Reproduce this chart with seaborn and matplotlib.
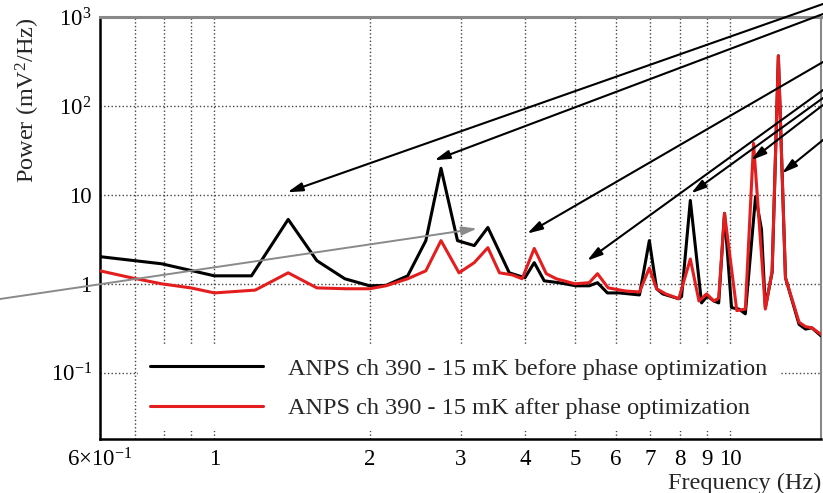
import numpy as np
import pandas as pd
import matplotlib
matplotlib.use('Agg')
import matplotlib.pyplot as plt
import seaborn as sns

# --- data (Hz, mV^2/Hz) ---
freq_before = [0.60, 0.79, 1.00, 1.18, 1.39, 1.58, 1.79, 2.00, 2.15, 2.37, 2.57, 2.75,
               2.96, 3.19, 3.39, 3.73, 4.00, 4.17, 4.36, 4.65, 5.02, 5.33, 5.53, 5.78,
               6.10, 6.67, 6.97, 7.20, 7.40, 7.95, 8.05, 8.37, 8.80, 9.03, 9.30, 9.50,
               9.75, 10.06, 10.40, 10.70, 11.20, 11.50, 11.70, 12.06, 12.40, 12.80,
               13.60, 14.00, 14.40, 15.00]
power_before = [2.02, 1.68, 1.23, 1.23, 5.3, 1.82, 1.14, 0.95, 0.96, 1.23, 3.06, 19.9,
                3.06, 2.69, 4.3, 1.33, 1.17, 1.73, 1.08, 1.03, 0.95, 0.95, 1.03, 0.79,
                0.79, 0.75, 3.06, 0.88, 0.77, 0.68, 0.72, 8.67, 0.61, 0.73, 0.64, 0.61,
                6.2, 0.54, 0.52, 0.46, 9.6, 4.1, 0.54, 1.35, 366, 1.17,
                0.35, 0.31, 0.32, 0.26]

freq_after = [0.60, 0.69, 0.79, 0.90, 1.00, 1.20, 1.39, 1.58, 1.80, 2.00, 2.15, 2.37,
              2.57, 2.75, 2.98, 3.19, 3.39, 3.57, 3.78, 3.95, 4.17, 4.40, 4.60, 5.00,
              5.33, 5.53, 5.80, 6.27, 6.67, 6.97, 7.20, 7.50, 7.95, 8.37, 8.70, 9.00,
              9.30, 9.50, 9.75, 10.30, 10.70, 11.10, 11.70, 12.06, 12.40, 12.80,
              13.60, 14.00, 14.40, 15.00]
power_after = [1.40, 1.17, 1.00, 0.90, 0.79, 0.85, 1.33, 0.90, 0.88, 0.88, 0.95, 1.14,
               1.40, 3.06, 1.33, 1.73, 2.55, 1.33, 1.26, 1.14, 2.50, 1.30, 1.14, 1.00,
               1.03, 1.30, 0.90, 0.83, 0.81, 1.50, 0.88, 0.77, 0.68, 1.90, 0.64, 0.77,
               0.64, 0.69, 6.20, 0.50, 0.52, 38.0, 0.52, 1.40, 366, 1.17,
               0.37, 0.33, 0.32, 0.27]

label_before = 'ANPS ch 390 - 15 mK before phase optimization'
label_after = 'ANPS ch 390 - 15 mK after phase optimization'

# arrows: head in data coords, tail on the right figure edge (pixels from top)
arrow_heads = [(1.385, 10.7), (2.67, 24.5), (4.04, 3.67), (5.28, 1.82),
               (8.4, 10.4), (10.98, 24.5), (12.6, 17.5)]
arrow_tails_px = [4, 14, 62, 90, 98, 105, 140]
gray_head = (3.23, 4.18)
gray_tail_px = 299

x_major = [1, 10]
x_minor = [0.6, 0.7, 0.8, 0.9, 2, 3, 4, 5, 6, 7, 8, 9]
x_minor_labels = [r'$6{\times}10^{-1}$', '', '', '', '2', '3', '4', '5', '6', '7', '8', '9']
y_ticks = [0.1, 1, 10, 100, 1000]
y_labels = [r'$10^{-1}$', '1', '10', r'$10^{2}$', r'$10^{3}$']

df_before = pd.DataFrame({'freq': freq_before, 'power': power_before})
df_after = pd.DataFrame({'freq': freq_after, 'power': power_after})

sns.set_theme(style='white')
plt.rcParams['font.family'] = ['Liberation Serif', 'DejaVu Serif']
plt.rcParams['mathtext.fontset'] = 'custom'
plt.rcParams['mathtext.rm'] = 'Liberation Serif'
plt.rcParams['mathtext.it'] = 'Liberation Serif:italic'

W, H = 823, 493
fig = plt.figure(figsize=(W / 100, H / 100), dpi=100)
ax = fig.add_axes([100 / W, 1 - 439 / H, 721 / W, 422 / H])

sns.lineplot(data=df_before, x='freq', y='power', color='black', lw=2.2,
             label=label_before, ax=ax, sort=False, zorder=3)
sns.lineplot(data=df_after, x='freq', y='power', color='#e41e1e', lw=2.2,
             label=label_after, ax=ax, sort=False, zorder=4)

ax.set_xscale('log')
ax.set_yscale('log')
ax.set_xlim(0.6, 15)
ax.set_ylim(0.018, 1000)

ax.set_xticks(x_major, labels=['1', '10'])
ax.set_xticks(x_minor, labels=x_minor_labels, minor=True)
ax.set_yticks(y_ticks, labels=y_labels)
ax.yaxis.set_minor_locator(matplotlib.ticker.LogLocator(base=10, subs=np.arange(2, 10)))
ax.yaxis.set_minor_formatter(matplotlib.ticker.NullFormatter())

ax.tick_params(axis='both', which='both', direction='in', labelsize=16.5, colors='black')
ax.tick_params(axis='y', which='major', length=13, width=1.3, pad=6)
ax.tick_params(axis='y', which='minor', length=7, width=1.1)
ax.tick_params(axis='x', which='major', length=10, width=1.3, pad=7)
ax.tick_params(axis='x', which='minor', length=5, width=1.1, pad=7)

ax.grid(True, axis='x', which='both', ls=':', color='#444444', lw=1.0)
ax.grid(True, axis='y', which='major', ls=':', color='#444444', lw=1.0)

for side in ['left', 'bottom']:
    ax.spines[side].set_color('black')
    ax.spines[side].set_linewidth(1.8)
ax.spines['top'].set_color('#888888')
ax.spines['top'].set_linewidth(2.2)
ax.spines['right'].set_color('#888888')
ax.spines['right'].set_linewidth(1.5)

ax.set_xlabel('Frequency (Hz)', loc='right', fontsize=17.5, labelpad=1)
ax.set_ylabel(r'Power (mV$^2$/Hz)', loc='top', fontsize=17.5, labelpad=6)

leg = ax.legend(loc='lower left', bbox_to_anchor=(0.053, 0.018), borderaxespad=0,
                fontsize=17.5, handlelength=4.65, handletextpad=1.0, labelspacing=0.72,
                borderpad=0.5, frameon=True, fancybox=False)
leg.get_frame().set_facecolor('white')
leg.get_frame().set_edgecolor('none')
leg.get_frame().set_alpha(1.0)
for line in leg.get_lines():
    line.set_linewidth(2.2)

for (hx, hy), ty in zip(arrow_heads, arrow_tails_px):
    ax.annotate('', xy=(hx, hy), xycoords='data',
                xytext=(1.0, 1 - ty / H), textcoords='figure fraction',
                arrowprops=dict(arrowstyle='-|>,head_length=0.7,head_width=0.2',
                                color='black', lw=1.5, mutation_scale=13,
                                shrinkA=0, shrinkB=0),
                annotation_clip=False, zorder=6)
ax.annotate('', xy=gray_head, xycoords='data',
            xytext=(0.0, 1 - gray_tail_px / H), textcoords='figure fraction',
            arrowprops=dict(arrowstyle='-|>,head_length=0.7,head_width=0.2',
                            color='#8a8a8a', lw=1.4, mutation_scale=13,
                            shrinkA=0, shrinkB=0),
            annotation_clip=False, zorder=6)

fig.savefig('out.png', dpi=100)
